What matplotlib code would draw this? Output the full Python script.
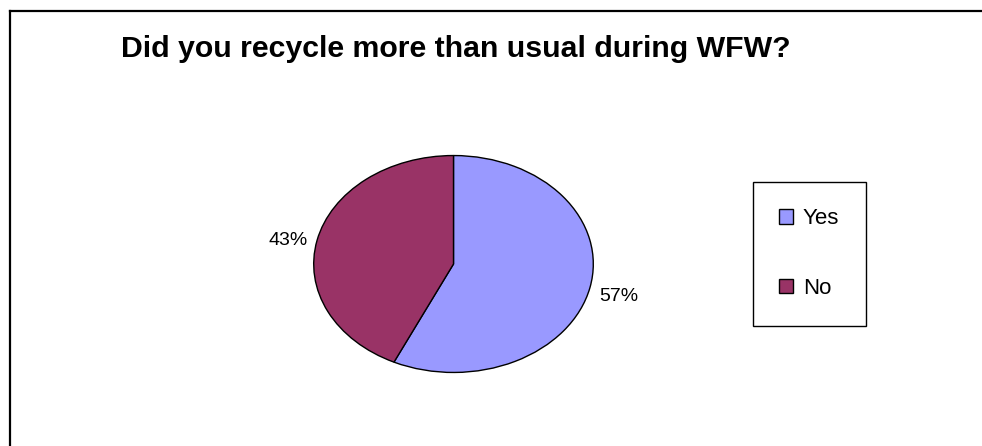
import matplotlib.pyplot as plt
from matplotlib.patches import Patch, Rectangle
from matplotlib.lines import Line2D

plt.rcParams['font.family'] = ['Liberation Sans', 'DejaVu Sans']

# data
categories = ['Yes', 'No']
shares = [57, 43]
colors = ['#9999FF', '#993366']
title = 'Did you recycle more than usual during WFW?'

W, H = 982, 446
fig = plt.figure(figsize=(W / 100, H / 100), dpi=100)

def fx(px):
    return px / W

def fy(py):
    return 1 - py / H

# outer chart border (only top and left are visible, the rest is cropped)
fig.add_artist(Line2D([fx(10), fx(10)], [fy(11), fy(H + 5)], color='black', lw=1.6))
fig.add_artist(Line2D([fx(10), fx(W + 5)], [fy(11), fy(11)], color='black', lw=1.6))

fig.text(fx(456), fy(49), title, ha='center', va='center',
         fontsize=21.8, fontweight='bold')

# pie drawn in a non-square axes so it comes out as an ellipse
ax = fig.add_axes([fx(313), fy(373), fx(281), 218 / H])
labels = [f'{v}%' for v in shares]
wedges, texts = ax.pie(shares, labels=labels, colors=colors, startangle=90,
                       counterclock=False, labeldistance=1.07,
                       wedgeprops=dict(edgecolor='black', linewidth=1.0),
                       textprops=dict(fontsize=14))
# excel nudges the labels vertically a little differently
for t, k in zip(texts, [1.27, 0.92]):
    x, y = t.get_position()
    t.set_position((x, y * k))
ax.set_aspect('auto')
ax.set_xlim(-1.005, 1.005)
ax.set_ylim(-1.005, 1.005)

# legend box
fig.add_artist(Rectangle((fx(753), fy(326)), fx(866) - fx(753), 144 / H,
                         transform=fig.transFigure, facecolor='white',
                         edgecolor='black', lw=1.0))
handles = [Patch(facecolor=c, edgecolor='black', lw=1.0) for c in colors]
fig.legend(handles, categories, loc='center left', bbox_to_anchor=(fx(779), fy(253.5)),
           frameon=False, fontsize=16, handlelength=0.63, handleheight=0.63,
           handletextpad=0.45, labelspacing=2.2, borderpad=0, borderaxespad=0)

fig.savefig('out.png', dpi=100)
